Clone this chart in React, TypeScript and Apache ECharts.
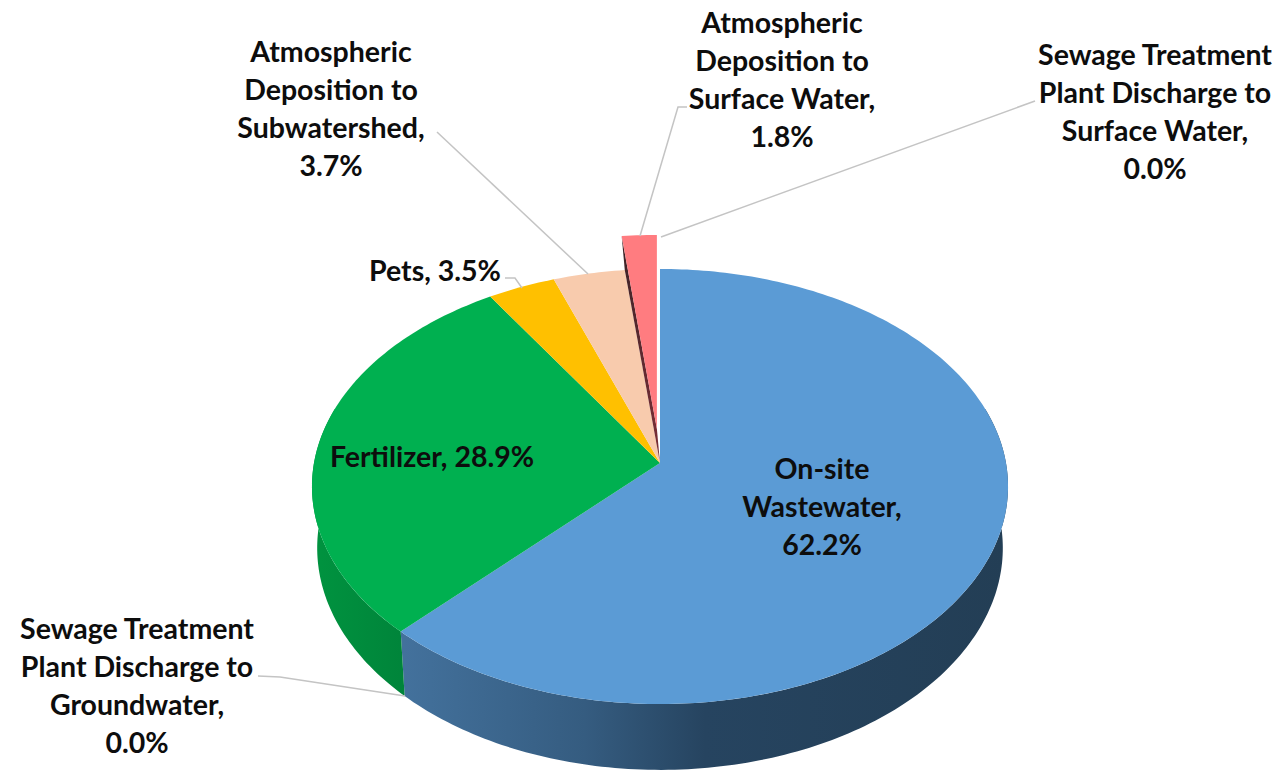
import React, { useEffect, useRef } from "react";
import * as echarts from "echarts";

// ---- data (clockwise from 12 o'clock) ----
const categories = [
  "On-site\nWastewater",
  "Sewage Treatment\nPlant Discharge to\nGroundwater",
  "Fertilizer",
  "Pets",
  "Atmospheric\nDeposition to\nSubwatershed",
  "Atmospheric\nDeposition to\nSurface Water",
  "Sewage Treatment\nPlant Discharge to\nSurface Water",
];
const values = [62.2, 0.0, 28.9, 3.5, 3.7, 1.8, 0.0];
const exploded = [0, 0, 0, 0, 0, 1, 0];

// ---- styles & layout ----
const topColors = ["#5B9BD5", "#A5A5A5", "#00B050", "#FFC000", "#F8CBAD", "#FF7C80", "#7F7F7F"];
const sideFills: any[] = [
  {
    type: "linear", global: true, x: 405, y: 0, x2: 1005, y2: 0,
    colorStops: [
      { offset: 0, color: "#43719C" },
      { offset: 0.3, color: "#355C80" },
      { offset: 0.5, color: "#264460" },
      { offset: 1, color: "#233E55" },
    ],
  },
  "#7F7F7F",
  {
    type: "linear", global: true, x: 320, y: 0, x2: 405, y2: 0,
    colorStops: [
      { offset: 0, color: "#00923F" },
      { offset: 1, color: "#00843A" },
    ],
  },
];
const labelSeparators = ["\n", "\n", " ", " ", "\n", "\n", "\n"];
const labelCenters = [
  [822, 506], [137, 685], [432, 456], [435, 270], [331, 108], [782, 79], [1155, 111],
];
const leaderLines = [
  [[258, 676], [280, 677], [405, 696]],
  [[505, 278], [515, 278], [522, 288]],
  [[437, 132], [588, 274]],
  [[687, 107], [678, 107], [640, 236]],
  [[661, 237], [1035, 101]],
];
const CX = 660;
const APEX_Y = 463;
const PERSP_A = 165;
const PERSP_C = -0.108;
const HALF_W = 346;
const SIDE_SCALE_X = 0.985;
const SIDE_SCALE_Y = 1.02;
const SIDE_SHIFT = 61.5;
const TOP_CY = 486.5;
const EXPLODE_X = 55;
const EXPLODE_Y = 34;
const VISIBLE_FROM = 75;
const VISIBLE_TO = 285;

const total = values.reduce((a, b) => a + b, 0);
const rad = (d: number) => (d * Math.PI) / 180;

function project(deg: number, r = 1): number[] {
  const u = Math.sin(rad(deg)) * r;
  const v = -Math.cos(rad(deg)) * r;
  const w = 1 + PERSP_C * v;
  return [CX + (HALF_W * u) / w, (PERSP_A * v + APEX_Y) / w];
}
function lower(p: number[]): number[] {
  return [
    CX + (p[0] - CX) * SIDE_SCALE_X,
    TOP_CY + SIDE_SHIFT + (p[1] - TOP_CY) * SIDE_SCALE_Y,
  ];
}
function arc(a: number, b: number): number[][] {
  const n = Math.max(2, Math.ceil(Math.abs(b - a)));
  const pts: number[][] = [];
  for (let i = 0; i <= n; i++) pts.push(project(a + ((b - a) * i) / n));
  return pts;
}
function sliceAngles(i: number): [number, number] {
  let s = 0;
  for (let k = 0; k < i; k++) s += values[k];
  return [(s / total) * 360, ((s + values[i]) / total) * 360];
}

const renderSide = (params: any) => {
  const i = params.dataIndex;
  const [a0, a1] = sliceAngles(i);
  const from = Math.max(a0, VISIBLE_FROM);
  const to = Math.min(a1, VISIBLE_TO);
  if (values[i] <= 0 || from >= to) return { type: "group", children: [] };
  const top = arc(from, to);
  const bottom = top.map(lower).reverse();
  return {
    type: "polygon",
    shape: { points: [...top, ...bottom] },
    style: { fill: sideFills[i] },
    silent: true,
  };
};

const renderTop = (params: any) => {
  const i = params.dataIndex;
  if (values[i] <= 0) return { type: "group", children: [] };
  const [a0, a1] = sliceAngles(i);
  const apex = [CX, APEX_Y];
  const rim = arc(a0, a1);
  const children: any[] = [];
  if (exploded[i]) {
    const mid = rad((a0 + a1) / 2);
    const dx = Math.sin(mid) * EXPLODE_X;
    const dy = -Math.cos(mid) * EXPLODE_Y;
    const shift = (p: number[]) => [p[0] + dx, p[1] + dy];
    children.push({
      type: "polygon",
      shape: { points: [shift(rim[0]), shift(apex), apex, rim[0]] },
      style: {
        fill: {
          type: "linear", global: true, x: 0, y: 236, x2: 0, y2: 450,
          colorStops: [
            { offset: 0, color: "#3A2226" },
            { offset: 1, color: "#7A2F36" },
          ],
        },
      },
    });
    children.push({
      type: "polygon",
      shape: { points: [shift(apex), ...rim.map(shift)] },
      style: { fill: topColors[i] },
    });
  } else {
    children.push({
      type: "polygon",
      shape: { points: [apex, ...rim] },
      style: { fill: topColors[i] },
    });
  }
  return { type: "group", silent: true, children };
};

const renderLabel = (params: any) => {
  const i = params.dataIndex;
  return {
    type: "text",
    silent: true,
    x: labelCenters[i][0],
    y: labelCenters[i][1],
    style: {
      text: `${categories[i]},${labelSeparators[i]}${values[i].toFixed(1)}%`,
      font: "bold 28.5px Lato, Carlito, sans-serif",
      lineHeight: 38,
      fill: "#0D0D0D",
      align: "center",
      verticalAlign: "middle",
    },
  };
};

export default function App() {
  const ref = useRef<HTMLDivElement>(null);
  useEffect(() => {
    document.body.style.margin = "0";
    const chart = echarts.init(ref.current!, undefined, { renderer: "svg" });
    const data = values.map((v) => [v]);
    chart.setOption({
      animation: false,
      backgroundColor: "#FFFFFF",
      graphic: leaderLines.map((pts) => ({
        type: "polyline",
        z: 5,
        silent: true,
        shape: { points: pts },
        style: { stroke: "#C4C4C4", lineWidth: 1.5, fill: "none" },
      })),
      series: [
        { type: "custom", coordinateSystem: "none", z: 1, data, renderItem: renderSide, silent: true },
        { type: "custom", coordinateSystem: "none", z: 2, data, renderItem: renderTop, silent: true },
        { type: "custom", coordinateSystem: "none", z: 6, data, renderItem: renderLabel, silent: true },
      ],
    });
    return () => chart.dispose();
  }, []);
  return <div ref={ref} style={{ width: 1284, height: 771 }} />;
}
